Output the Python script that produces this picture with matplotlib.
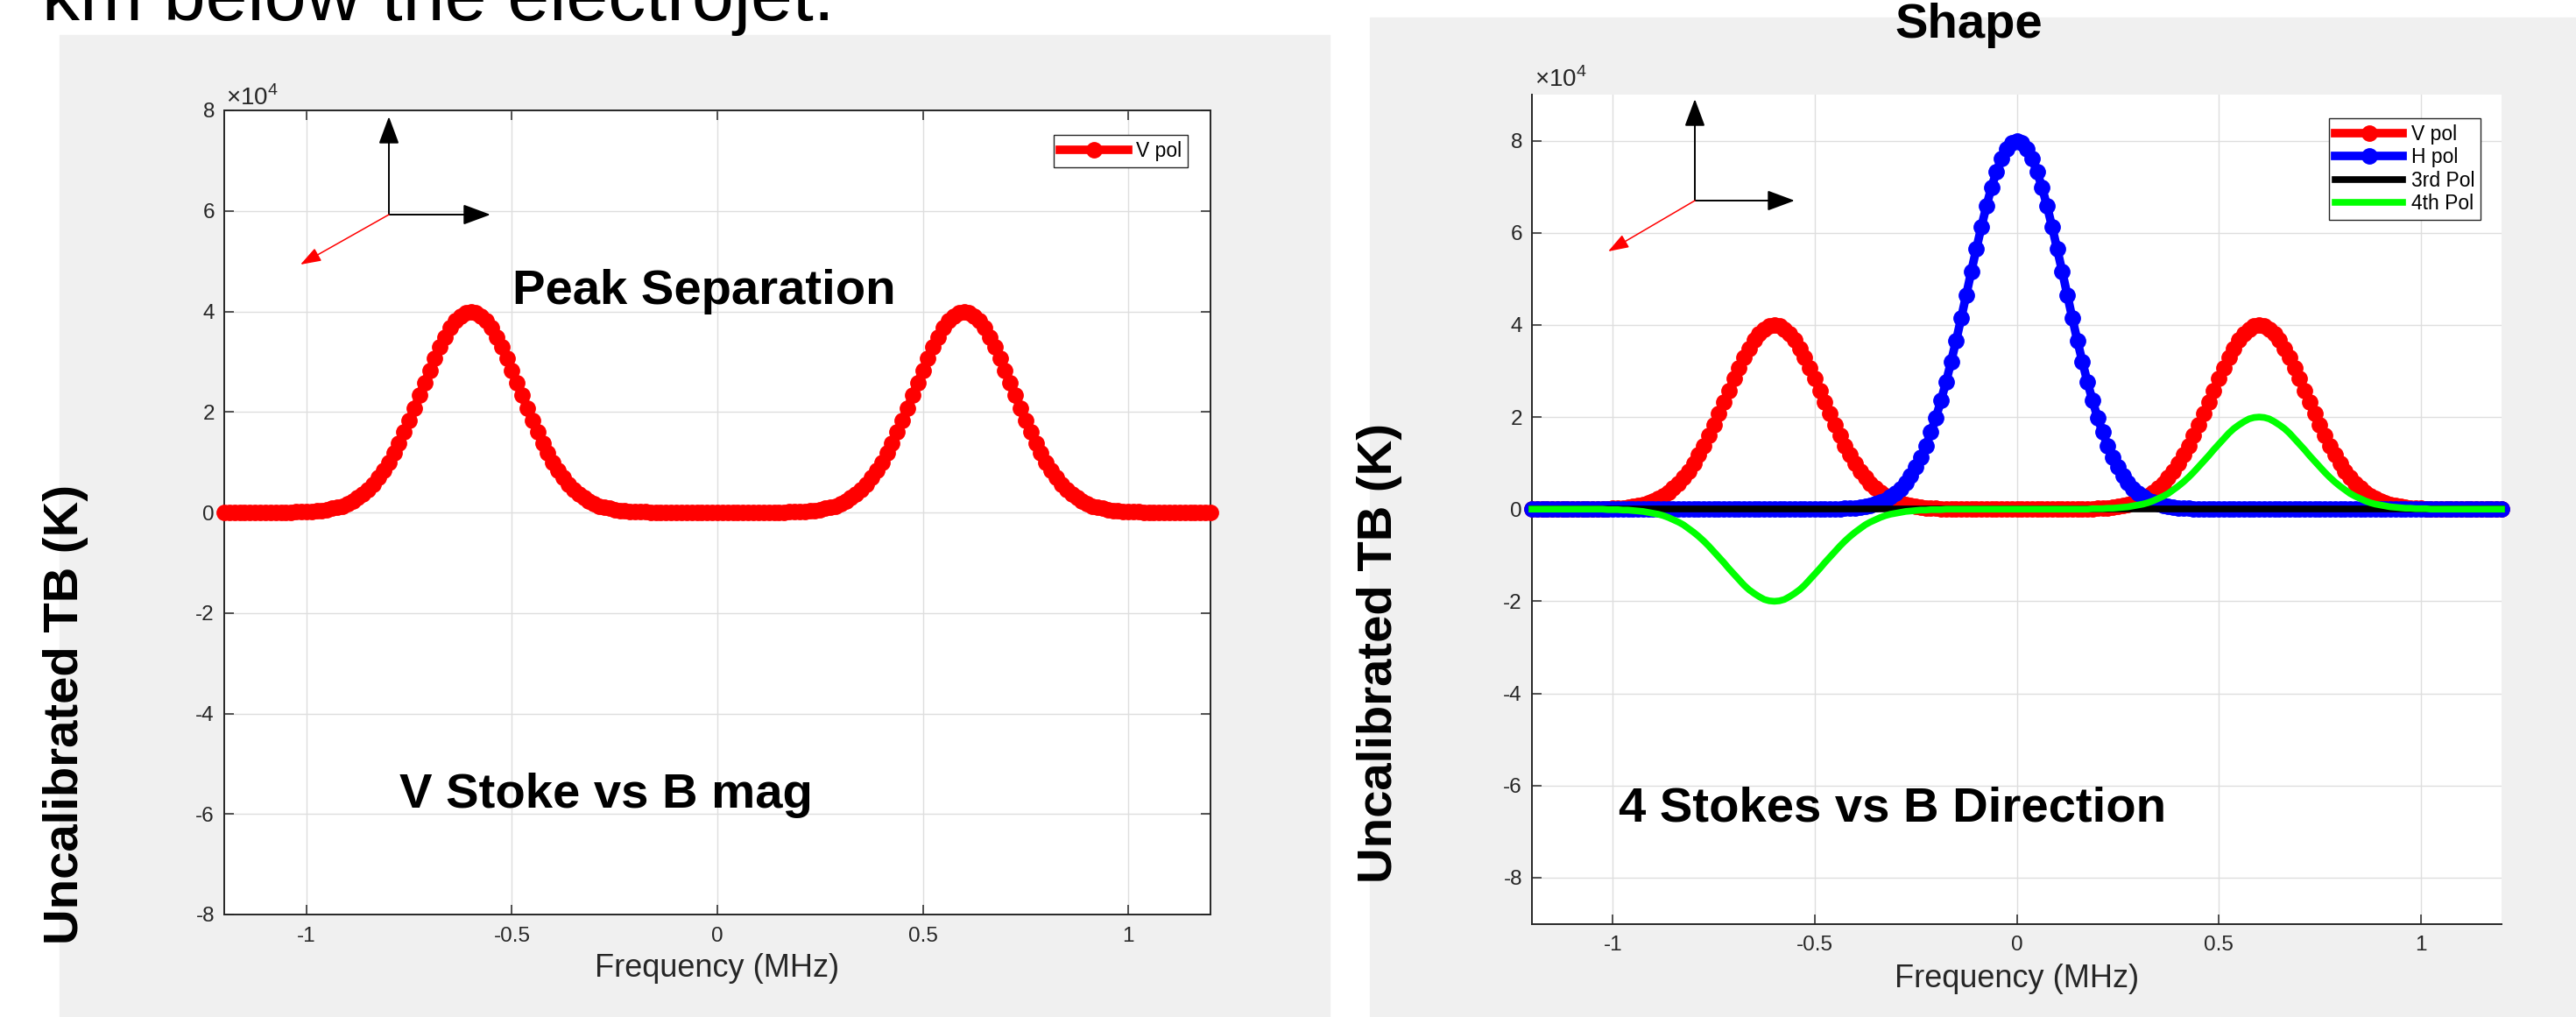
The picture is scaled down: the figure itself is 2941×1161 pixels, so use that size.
import numpy as np
import matplotlib
matplotlib.use("Agg")
import matplotlib.pyplot as plt
from matplotlib.patches import Rectangle

# canvas size in pixels (dpi 100)
W, H = 2941, 1161

# ---- data (TB in units of 1e4 K), sampled every 0.0125 MHz ----
freq = np.linspace(-1.2, 1.2, 193)

v_rise = [0.01, 0.01, 0.02, 0.02, 0.03, 0.04, 0.06, 0.08, 0.10, 0.13, 0.18, 0.23,
          0.29, 0.37, 0.46, 0.56, 0.69, 0.83, 1.00, 1.18, 1.38, 1.60, 1.83, 2.07,
          2.33, 2.58, 2.83, 3.07, 3.29, 3.49, 3.67, 3.81, 3.91, 3.98]
v_fall = [3.98, 3.91, 3.81, 3.67, 3.49, 3.29, 3.07, 2.83, 2.58, 2.33, 2.07, 1.83,
          1.60, 1.38, 1.18, 1.00, 0.83, 0.69, 0.56, 0.46, 0.37, 0.29, 0.23, 0.18,
          0.13, 0.10, 0.08, 0.06, 0.04, 0.03, 0.02, 0.02, 0.01, 0.01]
v_pol = ([0] * 14 + v_rise + [4.00] + v_fall + [0] * 27
         + v_rise + [4.00] + v_fall + [0] * 14)

h_rise = [0.01, 0.01, 0.02, 0.02, 0.03, 0.04, 0.06, 0.08, 0.11, 0.15, 0.20, 0.27,
          0.35, 0.45, 0.58, 0.73, 0.91, 1.13, 1.38, 1.67, 1.99, 2.36, 2.76, 3.20,
          3.66, 4.15, 4.65, 5.16, 5.65, 6.13, 6.58, 6.99, 7.33, 7.62, 7.83, 7.96]
h_fall = [7.96, 7.83, 7.62, 7.33, 6.99, 6.58, 6.13, 5.65, 5.16, 4.65, 4.15, 3.66,
          3.20, 2.76, 2.36, 1.99, 1.67, 1.38, 1.13, 0.91, 0.73, 0.58, 0.45, 0.35,
          0.27, 0.20, 0.15, 0.11, 0.08, 0.06, 0.04, 0.03, 0.02, 0.02, 0.01, 0.01]
h_pol = [0] * 60 + h_rise + [8.00] + h_fall + [0] * 60

third_pol = [0.0] * 193

p4_dip = [-0.01, -0.01, -0.01, -0.02, -0.02, -0.03, -0.04, -0.05, -0.07, -0.09,
          -0.11, -0.14, -0.18, -0.23, -0.28, -0.34, -0.42, -0.50, -0.59, -0.69,
          -0.80, -0.92, -1.04, -1.16, -1.29, -1.41, -1.53, -1.65, -1.75, -1.83,
          -1.90, -1.96, -1.99, -2.00, -1.99, -1.96, -1.90, -1.83, -1.75, -1.65,
          -1.53, -1.41, -1.29, -1.16, -1.04, -0.92, -0.80, -0.69, -0.59, -0.50,
          -0.42, -0.34, -0.28, -0.23, -0.18, -0.14, -0.11, -0.09, -0.07, -0.05,
          -0.04, -0.03, -0.02, -0.02, -0.01, -0.01, -0.01]
p4_bump = [0.01, 0.01, 0.01, 0.02, 0.02, 0.03, 0.04, 0.05, 0.07, 0.09,
           0.11, 0.14, 0.18, 0.23, 0.28, 0.34, 0.42, 0.50, 0.59, 0.69,
           0.80, 0.92, 1.04, 1.16, 1.29, 1.41, 1.53, 1.65, 1.75, 1.83,
           1.90, 1.96, 1.99, 2.00, 1.99, 1.96, 1.90, 1.83, 1.75, 1.65,
           1.53, 1.41, 1.29, 1.16, 1.04, 0.92, 0.80, 0.69, 0.59, 0.50,
           0.42, 0.34, 0.28, 0.23, 0.18, 0.14, 0.11, 0.09, 0.07, 0.05,
           0.04, 0.03, 0.02, 0.02, 0.01, 0.01, 0.01]
fourth_pol = [0] * 15 + p4_dip + [0] * 29 + p4_bump + [0] * 15

x_ticks = [-1, -0.5, 0, 0.5, 1]
x_tick_labels = ["-1", "-0.5", "0", "0.5", "1"]
y_ticks = [-8, -6, -4, -2, 0, 2, 4, 6, 8]
y_tick_labels = ["-8", "-6", "-4", "-2", "0", "2", "4", "6", "8"]

plt.rcParams["font.family"] = ["Liberation Sans", "DejaVu Sans"]
plt.rcParams["mathtext.fontset"] = "custom"
plt.rcParams["mathtext.rm"] = "Liberation Sans"
plt.rcParams["axes.unicode_minus"] = False

GRAY = "#f0f0f0"
AXC = "#262626"
BIG = 40.5
LW = 7
MS = 12.5


def box(x0, y0, x1, y1):
    # pixel box (image coords, y down) -> figure fraction rect
    return [x0 / W, 1 - y1 / H, (x1 - x0) / W, (y1 - y0) / H]


def style_axes(ax, full_box):
    ax.set_facecolor("white")
    ax.grid(True, color="#dedede", lw=1.0)
    ax.set_axisbelow(True)
    ax.tick_params(direction="in", length=8, width=1.1, colors=AXC,
                   labelsize=17.5, pad=8, top=full_box, right=full_box)
    ax.tick_params(axis="x", pad=10)
    for s in ax.spines.values():
        s.set_color(AXC)
        s.set_linewidth(1.4)
    if not full_box:
        ax.spines["top"].set_visible(False)
        ax.spines["right"].set_visible(False)
    ax.set_xticks(x_ticks, x_tick_labels)
    ax.set_yticks(y_ticks, y_tick_labels)
    ax.set_xlim(-1.2, 1.2)


def arrow(ax, start, end, color, lw, hl, hw):
    ax.annotate("", xy=(end[0], H - end[1]), xytext=(start[0], H - start[1]),
                xycoords="figure pixels", textcoords="figure pixels",
                arrowprops=dict(arrowstyle=f"-|>,head_length={hl},head_width={hw}",
                                color=color, lw=lw, mutation_scale=10,
                                shrinkA=0, shrinkB=0))


def add_legend(ax, right, top):
    leg = ax.legend(loc="upper right", bbox_to_anchor=(right / W, 1 - top / H),
                    bbox_transform=fig.transFigure, fontsize=16.5, fancybox=False,
                    edgecolor=AXC, framealpha=1, borderaxespad=0, handlelength=3.4,
                    handletextpad=0.4, borderpad=0.3, labelspacing=0.15,
                    numpoints=1, markerscale=1.0)
    leg.get_frame().set_linewidth(1.0)


fig = plt.figure(figsize=(W / 100, H / 100), dpi=100)

# slide panel backgrounds
fig.add_artist(Rectangle((68 / W, 0), (1518 - 68) / W, 1 - 40 / H,
                         transform=fig.transFigure, color=GRAY, zorder=-2))
fig.add_artist(Rectangle((1564 / W, 0), (W - 1564) / W, 1 - 20 / H,
                         transform=fig.transFigure, color=GRAY, zorder=-2))

fig.text(48 / W, 1 - 23 / H, "km below the electrojet.", fontsize=62,
         va="baseline", ha="left", color="black")
fig.text(2248 / W, 1 - 43 / H, "Shape", fontsize=BIG, fontweight="bold",
         va="baseline", ha="center")

# ---------------- left panel ----------------
ax1 = fig.add_axes(box(256, 126, 1382, 1044))
style_axes(ax1, True)
ax1.set_ylim(-8, 8)
ax1.plot(freq, v_pol, "-o", color="#ff0000", lw=LW, ms=MS,
         mfc="#ff0000", mec="#ff0000", label="V pol", clip_on=False, zorder=3)
add_legend(ax1, 1356, 154)

ax1.set_xlabel("Frequency (MHz)", fontsize=26, color=AXC)
ax1.xaxis.label.set_va("baseline")
ax1.xaxis.set_label_coords(0.5, (46 - 117) / 918)
ax1.set_ylabel("Uncalibrated TB (K)", fontsize=BIG, fontweight="bold")
ax1.yaxis.label.set_va("center")
ax1.yaxis.set_label_coords((75 - 256) / 1126, (345 - 117) / 918)

fig.text(258 / W, 1 - 120 / H, r"$\times10^{4}$", fontsize=20, color=AXC,
         va="baseline", ha="left")
fig.text(585 / W, 1 - 347 / H, "Peak Separation", fontsize=BIG,
         fontweight="bold", va="baseline")
fig.text(456 / W, 1 - 922 / H, "V Stoke vs B mag", fontsize=BIG,
         fontweight="bold", va="baseline")

arrow(ax1, (444, 245), (444, 133), "black", 1.4, 1.94, 0.72)
arrow(ax1, (444, 245), (560, 245), "black", 1.4, 1.94, 0.72)
arrow(ax1, (444, 245), (343, 302), "#ff0000", 1.1, 1.44, 0.5)

# ---------------- right panel ----------------
ax2 = fig.add_axes(box(1749, 108, 2856, 1054.5))
style_axes(ax2, False)
ax2.set_ylim(-9, 9)
ax2.plot(freq, v_pol, "-o", color="#ff0000", lw=LW, ms=MS,
         mfc="#ff0000", mec="#ff0000", label="V pol", clip_on=False, zorder=3)
ax2.plot(freq, h_pol, "-o", color="#0000ff", lw=LW, ms=MS,
         mfc="#0000ff", mec="#0000ff", label="H pol", clip_on=False, zorder=3)
ax2.plot(freq, third_pol, "-", color="black", lw=5.5, label="3rd Pol",
         clip_on=False, zorder=3)
ax2.plot(freq, fourth_pol, "-", color="#00ff00", lw=5.5, label="4th Pol",
         clip_on=False, zorder=3)
add_legend(ax2, 2832, 135)

ax2.set_xlabel("Frequency (MHz)", fontsize=26, color=AXC)
ax2.xaxis.label.set_va("baseline")
ax2.xaxis.set_label_coords(0.5, (34 - 106.5) / 946.5)
ax2.set_ylabel("Uncalibrated TB (K)", fontsize=BIG, fontweight="bold")
ax2.yaxis.label.set_va("center")
ax2.yaxis.set_label_coords((1575 - 1749) / 1107, (416 - 106.5) / 946.5)

fig.text(1752 / W, 1 - 99 / H, r"$\times10^{4}$", fontsize=20, color=AXC,
         va="baseline", ha="left")
fig.text(1848 / W, 1 - 938 / H, "4 Stokes vs B Direction", fontsize=BIG,
         fontweight="bold", va="baseline")

arrow(ax2, (1935, 229), (1935, 113), "black", 1.4, 1.94, 0.72)
arrow(ax2, (1935, 229), (2049, 229), "black", 1.4, 1.94, 0.72)
arrow(ax2, (1935, 229), (1836, 287), "#ff0000", 1.1, 1.44, 0.5)

fig.savefig("out.png", dpi=100, facecolor="white")
